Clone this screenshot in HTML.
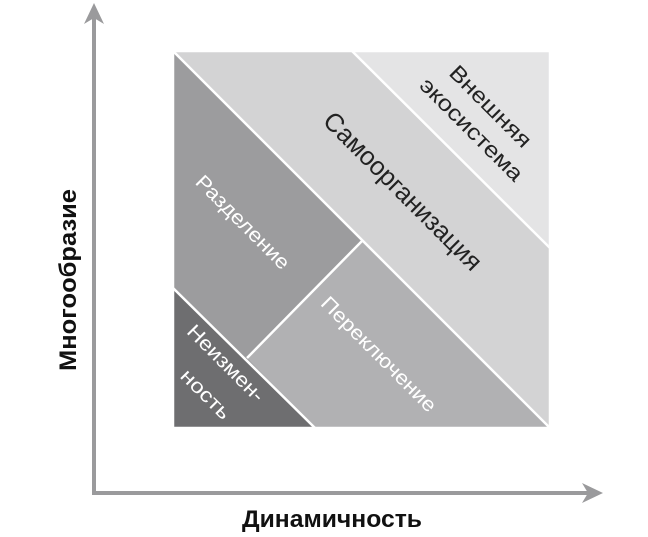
<!DOCTYPE html>
<html><head><meta charset="utf-8"><style>
html,body{margin:0;padding:0;background:#fff;}
svg{display:block;}
text{font-family:"Liberation Sans","DejaVu Sans",sans-serif;}
</style></head><body>
<svg width="648" height="537" viewBox="0 0 648 537" xmlns="http://www.w3.org/2000/svg">
<polygon points="173,51 550,51 550,428" fill="#d3d3d4"/>
<polygon points="352,51 550,51 550,248" fill="#e4e4e5"/>
<polygon points="173,51 550,428 173,428" fill="#9c9c9e"/>
<polygon points="247,358 362,241 550,428 315,428" fill="#b1b1b3"/>
<polygon points="173,288 315,428 173,428" fill="#6e6e70"/>
<g stroke="#fff" stroke-width="2.5" fill="none">
<line x1="173" y1="51" x2="550" y2="428"/>
<line x1="352" y1="51" x2="550" y2="248"/>
<line x1="173" y1="288" x2="315" y2="428"/>
<line x1="247" y1="358" x2="362" y2="241"/>
<rect x="173" y="51" width="377" height="377"/>
</g>
<g font-size="22" fill="#222" text-anchor="middle">
<text transform="translate(491,106) rotate(45)" dy="8" textLength="106" lengthAdjust="spacingAndGlyphs">Внешняя</text>
<text transform="translate(472,129) rotate(45)" dy="8" textLength="136" lengthAdjust="spacingAndGlyphs">экосистема</text>
</g>
<text transform="translate(403,191) rotate(45)" dy="9" font-size="26" fill="#222" text-anchor="middle" textLength="212" lengthAdjust="spacingAndGlyphs">Самоорганизация</text>
<g font-size="20" fill="#fff" text-anchor="middle">
<text transform="translate(243,222) rotate(45)" dy="7" textLength="124" lengthAdjust="spacingAndGlyphs">Разделение</text>
<text transform="translate(379,354) rotate(45)" dy="7" textLength="154" lengthAdjust="spacingAndGlyphs">Переключение</text>
<text transform="translate(226,363) rotate(45)" dy="7" textLength="100" lengthAdjust="spacingAndGlyphs">Неизмен-</text>
<text transform="translate(206,394) rotate(45)" dy="7" textLength="62" lengthAdjust="spacingAndGlyphs">ность</text>
</g>
<g stroke="#9a9a9c" stroke-width="4" fill="none">
<line x1="94" y1="18" x2="94" y2="493"/>
<line x1="92" y1="493" x2="590" y2="493"/>
</g>
<polygon points="94,3 104,24 94,18 84,24" fill="#9a9a9c"/>
<polygon points="603,493 582,483 588,493 582,503" fill="#9a9a9c"/>
<text x="332" y="527" font-size="24" font-weight="bold" fill="#111" text-anchor="middle" textLength="180" lengthAdjust="spacingAndGlyphs">Динамичность</text>
<text transform="translate(76,280) rotate(-90)" font-size="24" font-weight="bold" fill="#111" text-anchor="middle" textLength="182" lengthAdjust="spacingAndGlyphs">Многообразие</text>
</svg>
</body></html>
